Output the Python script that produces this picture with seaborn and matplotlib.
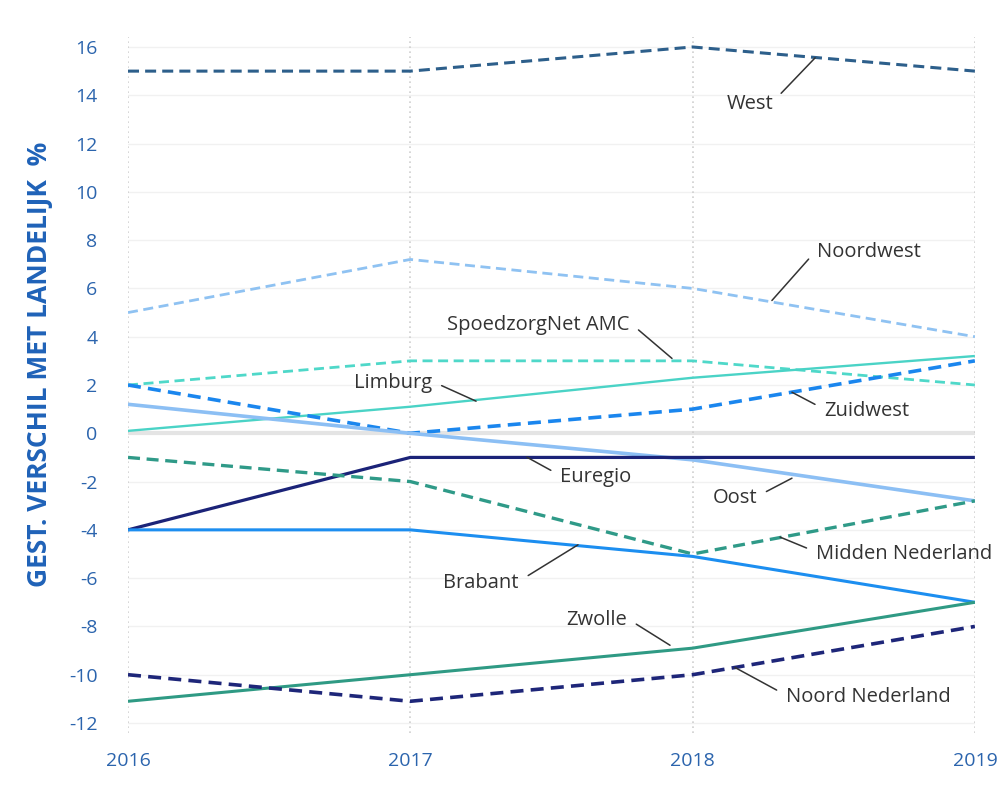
# Gestandaardiseerd verschil met landelijk gemiddelde per regio, 2016-2019

import pandas as pd
import matplotlib
matplotlib.use('Agg')
import matplotlib.pyplot as plt
import seaborn as sns

years = [2016, 2017, 2018, 2019]

west = [15, 15, 16, 15]
noordwest = [5, 7.2, 6, 4]
spoedzorgnet_amc = [2, 3, 3, 2]
limburg = [0.1, 1.1, 2.3, 3.2]
zuidwest = [2, 0, 1, 3]
oost = [1.2, 0, -1.1, -2.8]
euregio = [-4, -1, -1, -1]
midden_nederland = [-1, -2, -5, -2.8]
brabant = [-4, -4, -5.1, -7]
zwolle = [-11.1, -10, -8.9, -7]
noord_nederland = [-10, -11.1, -10, -8]

regions = ['West', 'Noordwest', 'SpoedzorgNet AMC', 'Limburg', 'Zuidwest', 'Oost',
           'Euregio', 'Midden Nederland', 'Brabant', 'Zwolle', 'Noord Nederland']
series = [west, noordwest, spoedzorgnet_amc, limburg, zuidwest, oost,
          euregio, midden_nederland, brabant, zwolle, noord_nederland]

# colour, dashed?, linewidth
styles = {
    'West': ('#2d5f8b', True, 2.2),
    'Noordwest': ('#8fc2f2', True, 2.0),
    'SpoedzorgNet AMC': ('#4fd8c9', True, 2.0),
    'Limburg': ('#4ad3c6', False, 1.7),
    'Zuidwest': ('#1a86ee', True, 2.6),
    'Oost': ('#8cbff4', False, 2.6),
    'Euregio': ('#1b2378', False, 2.3),
    'Midden Nederland': ('#2f9a88', True, 2.4),
    'Brabant': ('#1c8ef0', False, 2.2),
    'Zwolle': ('#2f9a84', False, 2.2),
    'Noord Nederland': ('#1e2679', True, 2.6),
}

# label text position (x, y, ha) and point on the line for the leader
labels = {
    'West': (2018.285, 13.65, 'right', 2018.434, 15.55),
    'Noordwest': (2018.439, 7.5, 'left', 2018.281, 5.5),
    'SpoedzorgNet AMC': (2017.778, 4.5, 'right', 2017.927, 3.1),
    'Limburg': (2017.077, 2.07, 'right', 2017.233, 1.33),
    'Zuidwest': (2018.467, 0.91, 'left', 2018.352, 1.7),
    'Euregio': (2017.531, -1.83, 'left', 2017.413, -0.99),
    'Oost': (2018.228, -2.7, 'right', 2018.352, -1.86),
    'Midden Nederland': (2018.438, -5.0, 'left', 2018.310, -4.3),
    'Brabant': (2017.385, -6.21, 'right', 2017.594, -4.62),
    'Zwolle': (2017.768, -7.75, 'right', 2017.920, -8.78),
    'Noord Nederland': (2018.331, -10.93, 'left', 2018.150, -9.7),
}

df = pd.DataFrame({'jaar': years})
for name, vals in zip(regions, series):
    df[name] = vals

sns.set_theme(style='white')
plt.rcParams['font.family'] = ['Open Sans', 'DejaVu Sans']
plt.rcParams['axes.unicode_minus'] = False

fig = plt.figure(figsize=(10.04, 7.89), dpi=100)
ax = fig.add_axes([0.1275, 0.0714, 0.8435, 0.8813])

# faint grid, zero band and dotted year lines
for yv in range(-12, 17, 2):
    ax.axhline(yv, color='#f1f1f1', lw=1, zorder=0)
ax.axhline(0, color='#e4e4e4', lw=3, zorder=0)
for xv in years:
    ax.axvline(xv, color='#cfcfcf', lw=1.2, ls=(0, (1, 2)), zorder=0)

for name in regions:
    color, dashed, lw = styles[name]
    sns.lineplot(data=df, x='jaar', y=name, ax=ax, color=color, lw=lw,
                 dashes=False, zorder=3)
    line = ax.lines[-1]
    if dashed:
        line.set_dashes((3.6, 2.0))
    line.set_solid_capstyle('butt')
    line.set_dash_capstyle('butt')

for name, (tx, ty, ha, px, py) in labels.items():
    relx = 1.0 if ha == 'right' else 0.0
    ax.annotate(name, xy=(px, py), xytext=(tx, ty), ha=ha, va='center',
                fontsize=14.5, color='#333333', zorder=5,
                arrowprops=dict(arrowstyle='-', color='#333333', lw=1.1,
                                relpos=(relx, 0.6), shrinkA=5, shrinkB=0))

ax.set_xlim(2016, 2019)
ax.set_ylim(-12.4, 16.4)
ax.set_xticks(years)
ax.set_xticklabels([str(y) for y in years])
ax.set_yticks(range(-12, 17, 2))
ax.tick_params(axis='both', colors='#2b64ad', labelsize=14, length=0)
ax.tick_params(axis='y', pad=22)
ax.tick_params(axis='x', pad=14)
ax.set_xlabel('')
ax.set_ylabel('GEST. VERSCHIL MET LANDELIJK  %', fontsize=19, fontweight='bold',
              color='#1f62b8')
ax.yaxis.set_label_coords(-0.089, 0.53)
for s in ax.spines.values():
    s.set_visible(False)

plt.savefig('out.png', dpi=100, facecolor='white')
